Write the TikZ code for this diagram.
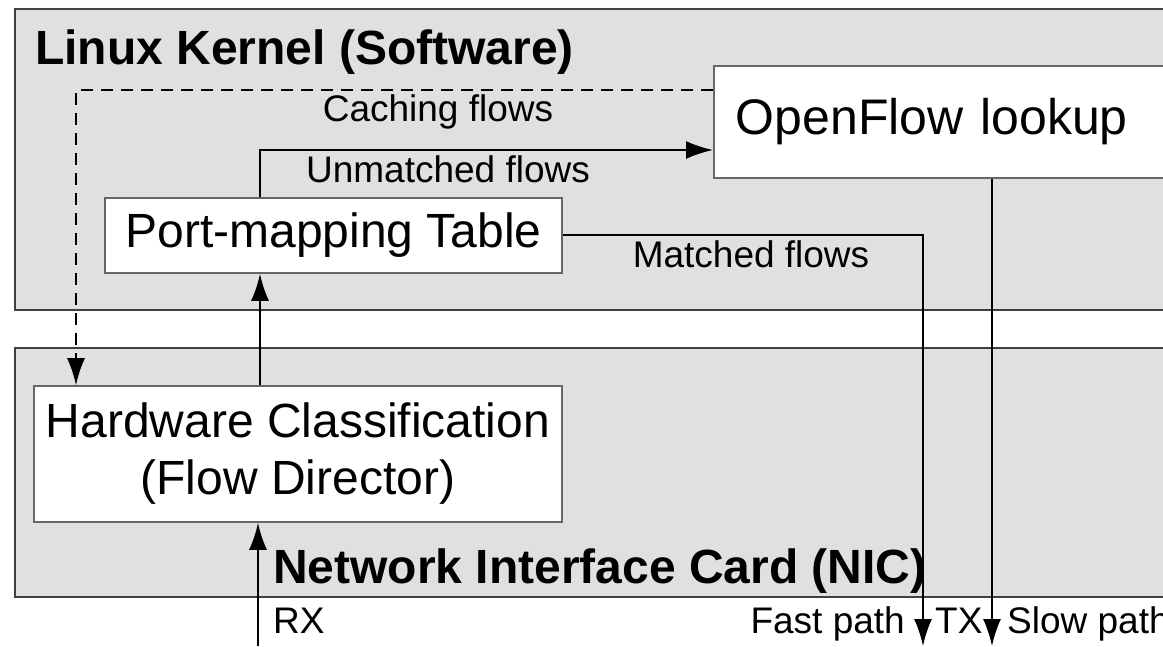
\documentclass[tikz,border=0pt]{standalone}
\usepackage{fontspec}
\setmainfont{Liberation Sans}
\usepackage{tikz}
\usetikzlibrary{arrows.meta}
\usetikzlibrary{positioning}
\tikzset{group/.style = {draw=mgrey, fill=lgrey, line width=1.6pt}}
\tikzset{block/.style = {draw=bgrey, fill=white, line width=1.6pt, inner sep=0, align=center, font=\bigfont}}
\tikzset{flow/.style = {line width=2pt, -{Latex[length=27pt, width=18pt]}}}
\tikzset{lbl/.style = {inner sep=0, font=\smallfont}}
\definecolor{lgrey}{rgb}{0.878, 0.878, 0.878}
\definecolor{mgrey}{rgb}{0.25, 0.25, 0.25}
\definecolor{bgrey}{rgb}{0.4, 0.4, 0.4}
\newcommand{\bigfont}{\fontsize{48}{57}\selectfont}
\newcommand{\smallfont}{\fontsize{37}{44}\selectfont}

\begin{document}
\begin{tikzpicture}[x=1pt, y=1pt]
      \useasboundingbox (0, 0) rectangle (1163, 646);
      \clip (0, 0) rectangle (1163, 646);

      % the two layers
      \draw [group] (15, 336) rectangle (1200, 637);
      \draw [group] (15, 49) rectangle (1200, 298);
      \node [inner sep=0, anchor=base west, font=\bigfont\bfseries] (kernel) at (35, 581) {Linux Kernel (Software)};
      \node [inner sep=0, anchor=base west, font=\bigfont\bfseries] (nic) at (273, 63) {Network Interface Card (NIC)};

      % blocks
      \node [block, anchor=west, minimum height=112, text width=466, align=left, inner xsep=22,
             font=\fontsize{50}{58}\selectfont] (ofl) at (713, 524) {OpenFlow lookup};
      \node [block, minimum width=457, minimum height=75] (pmt) at (333.5, 410.5) {Port-mapping Table};
      \node [block, minimum width=528, minimum height=136] (hw) at (298, 192) {Hardware Classification\\(Flow Director)};

      \coordinate (cache) at (76, 556);
      \coordinate (unm) at (260, 496);
      \coordinate (fast) at (923, 0);
      \coordinate (slow) at (992, 0);
      \coordinate (rx) at (258, 0);

      % connectors
      \draw [flow, dashed, dash pattern=on 12pt off 8pt] (ofl.west |- cache) -- (cache) -- (cache |- hw.north);
      \draw [flow] (pmt.north -| unm) -- (unm) -- (unm -| ofl.west);
      \draw [flow] (pmt.east) -| (fast);
      \draw [flow] (ofl.south -| slow) -- (slow);
      \draw [flow] (hw.north -| unm) -- (pmt.south -| unm);
      \draw [flow] (rx) -- (rx |- hw.south);

      % labels
      \node [lbl, anchor=base] (cachelbl) at (438, 524) {Caching flows};
      \node [lbl, anchor=base] (unmlbl) at (448, 463) {Unmatched flows};
      \node [lbl, anchor=base] (matchlbl) at (751, 378) {Matched flows};
      \node [lbl, anchor=base west] (rxlbl) at (273, 13) {RX};
      \node [lbl, anchor=base east] (fastlbl) at (905, 13) {Fast path};
      \node [lbl, anchor=base west] (txlbl) at (935, 13) {TX};
      \node [lbl, anchor=base west] (slowlbl) at (1007, 13) {Slow path};
    \end{tikzpicture}
\end{document}
